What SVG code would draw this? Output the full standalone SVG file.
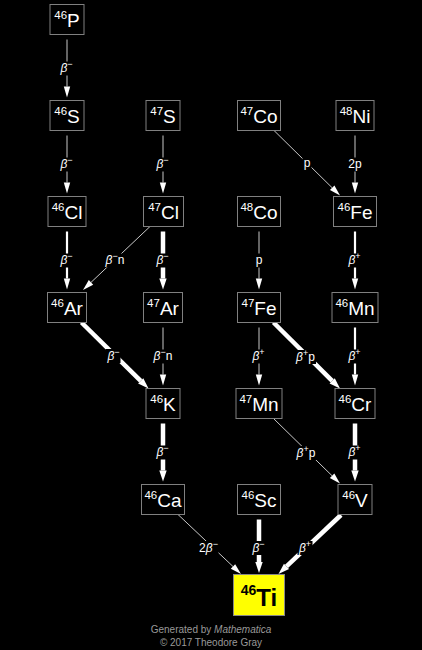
<svg xmlns="http://www.w3.org/2000/svg" width="422" height="650" viewBox="0 0 422 650">
<style>
.bg{fill:#000}
.box{fill:#000;stroke:#808080;stroke-width:1}
.nt{font-family:"Liberation Sans",Arial,sans-serif;fill:#fff;text-anchor:middle}
.ms{font-size:11.5px}
.el{font-size:19px}
.ti{font-family:"Liberation Sans",Arial,sans-serif;fill:#000;font-weight:bold;text-anchor:middle}
.thin{stroke:#c8c8c8;stroke-width:1;fill:none;marker-end:url(#ah)}
.med{stroke:#fff;stroke-width:2.2;fill:none;marker-end:url(#ah)}
.thick{stroke:#fff;stroke-width:4.5;fill:none;marker-end:url(#ahT)}
.lb{fill:#000}
.lt{font-family:"Liberation Sans",Arial,sans-serif;font-size:12px;fill:#fff;text-anchor:middle}
.it{font-style:italic}
.sp{font-size:9px}
.ft{font-family:"Liberation Sans",Arial,sans-serif;font-size:10px;fill:#999;text-anchor:middle}
</style>
<defs>
<marker id="ah" markerUnits="userSpaceOnUse" markerWidth="11" markerHeight="7" refX="0" refY="3.5" orient="auto" overflow="visible"><path d="M0,0.3 L11,3.5 L0,6.7 z" fill="#fff"/></marker>
<marker id="ahT" markerUnits="userSpaceOnUse" markerWidth="11" markerHeight="8" refX="0" refY="4" orient="auto" overflow="visible"><path d="M0,0.3 L11,4 L0,7.7 z" fill="#fff"/></marker>
</defs>
<rect class="bg" x="0" y="0" width="422" height="650"/>

<g id="connectors">
<line class="thin" x1="67" y1="39.5" x2="67" y2="86.5"/>
<line class="thin" x1="67" y1="135.5" x2="67" y2="182.5"/>
<line class="med" x1="67" y1="231.5" x2="67" y2="278.5"/>
<line class="thin" x1="163" y1="135.5" x2="163" y2="182.5"/>
<line class="thick" x1="163" y1="231.5" x2="163" y2="278.5"/>
<line class="thin" x1="163" y1="327.5" x2="163" y2="374.5"/>
<line class="thick" x1="163" y1="423.5" x2="163" y2="470.5"/>
<line class="thin" x1="259" y1="231.5" x2="259" y2="278.5"/>
<line class="thin" x1="259" y1="327.5" x2="259" y2="374.5"/>
<line class="thick" x1="259" y1="519.5" x2="259" y2="562"/>
<line class="thin" x1="355" y1="135.5" x2="355" y2="182.5"/>
<line class="med" x1="355" y1="231.5" x2="355" y2="278.5"/>
<line class="med" x1="355" y1="327.5" x2="355" y2="374.5"/>
<line class="thick" x1="355" y1="423.5" x2="355" y2="470.5"/>
<line class="thin" x1="150" y1="226.5" x2="91" y2="282.4"/>
<line class="thin" x1="273.5" y1="130" x2="332.2" y2="187.8"/>
<line class="thick" x1="81.5" y1="322.5" x2="140.7" y2="380.8"/>
<line class="thick" x1="273.5" y1="322.5" x2="332.2" y2="380.8"/>
<line class="thin" x1="273.5" y1="418.5" x2="332.1" y2="475.8"/>
<line class="thin" x1="178" y1="514.5" x2="233" y2="566.5"/>
<line class="thick" x1="341" y1="515" x2="286.5" y2="566.4"/>

<rect class="lb" x="60" y="61.5" width="13" height="14"/>
<text class="lt" x="66.5" y="72"><tspan class="it">β</tspan><tspan class="sp" dy="-5">−</tspan></text>
<rect class="lb" x="60" y="157.5" width="13" height="14"/>
<text class="lt" x="66.5" y="168"><tspan class="it">β</tspan><tspan class="sp" dy="-5">−</tspan></text>
<rect class="lb" x="60" y="253.5" width="13" height="14"/>
<text class="lt" x="66.5" y="264"><tspan class="it">β</tspan><tspan class="sp" dy="-5">−</tspan></text>
<rect class="lb" x="156" y="157.5" width="13" height="14"/>
<text class="lt" x="162.5" y="168"><tspan class="it">β</tspan><tspan class="sp" dy="-5">−</tspan></text>
<rect class="lb" x="156" y="253.5" width="13" height="14"/>
<text class="lt" x="162.5" y="264"><tspan class="it">β</tspan><tspan class="sp" dy="-5">−</tspan></text>
<rect class="lb" x="153" y="349.5" width="20" height="14"/>
<text class="lt" x="163" y="360"><tspan class="it">β</tspan><tspan class="sp" dy="-5">−</tspan><tspan dy="5">n</tspan></text>
<rect class="lb" x="156" y="445.5" width="13" height="14"/>
<text class="lt" x="162.5" y="456"><tspan class="it">β</tspan><tspan class="sp" dy="-5">−</tspan></text>
<rect class="lb" x="254.5" y="253.5" width="9" height="14"/>
<text class="lt" x="259" y="264">p</text>
<rect class="lb" x="252" y="349.5" width="14" height="14"/>
<text class="lt" x="258.5" y="360"><tspan class="it">β</tspan><tspan class="sp" dy="-5">+</tspan></text>
<rect class="lb" x="252" y="541" width="13" height="14"/>
<text class="lt" x="258.5" y="552"><tspan class="it">β</tspan><tspan class="sp" dy="-5">−</tspan></text>
<rect class="lb" x="347.5" y="157.5" width="15" height="14"/>
<text class="lt" x="355" y="168">2p</text>
<rect class="lb" x="347.5" y="253.5" width="14" height="14"/>
<text class="lt" x="354.5" y="264"><tspan class="it">β</tspan><tspan class="sp" dy="-5">+</tspan></text>
<rect class="lb" x="347.5" y="349.5" width="14" height="14"/>
<text class="lt" x="354.5" y="360"><tspan class="it">β</tspan><tspan class="sp" dy="-5">+</tspan></text>
<rect class="lb" x="347.5" y="445.5" width="14" height="14"/>
<text class="lt" x="354.5" y="456"><tspan class="it">β</tspan><tspan class="sp" dy="-5">+</tspan></text>
<rect class="lb" x="105" y="253.5" width="20" height="14"/>
<text class="lt" x="115" y="264"><tspan class="it">β</tspan><tspan class="sp" dy="-5">−</tspan><tspan dy="5">n</tspan></text>
<rect class="lb" x="302.5" y="156.5" width="9" height="14"/>
<text class="lt" x="307" y="167">p</text>
<rect class="lb" x="105.5" y="349" width="15" height="14"/>
<text class="lt" x="113.5" y="359.5"><tspan class="it">β</tspan><tspan class="sp" dy="-5">−</tspan></text>
<rect class="lb" x="295" y="350" width="21" height="14"/>
<text class="lt" x="305.5" y="360.5"><tspan class="it">β</tspan><tspan class="sp" dy="-5">+</tspan><tspan dy="5">p</tspan></text>
<rect class="lb" x="295.5" y="446" width="21" height="14"/>
<text class="lt" x="306" y="456.5"><tspan class="it">β</tspan><tspan class="sp" dy="-5">+</tspan><tspan dy="5">p</tspan></text>
<rect class="lb" x="198.5" y="541" width="20" height="14"/>
<text class="lt" x="208.5" y="552">2<tspan class="it">β</tspan><tspan class="sp" dy="-5">−</tspan></text>
<rect class="lb" x="297.5" y="541" width="15" height="14"/>
<text class="lt" x="305" y="552"><tspan class="it">β</tspan><tspan class="sp" dy="-5">+</tspan></text>
</g>

<g id="n46P"><rect class="box" x="50" y="4.5" width="34" height="30"/><text class="nt" x="67" y="27"><tspan class="ms" dy="-8.5">46</tspan><tspan class="el" dy="8.5">P</tspan></text></g>
<g id="n46S"><rect class="box" x="50" y="100.5" width="34" height="30"/><text class="nt" x="67" y="123"><tspan class="ms" dy="-8.5">46</tspan><tspan class="el" dy="8.5">S</tspan></text></g>
<g id="n47S"><rect class="box" x="146" y="100.5" width="34" height="30"/><text class="nt" x="163" y="123"><tspan class="ms" dy="-8.5">47</tspan><tspan class="el" dy="8.5">S</tspan></text></g>
<g id="n47Co"><rect class="box" x="237.5" y="100.5" width="43" height="30"/><text class="nt" x="259" y="123"><tspan class="ms" dy="-8.5">47</tspan><tspan class="el" dy="8.5">Co</tspan></text></g>
<g id="n48Ni"><rect class="box" x="336" y="100.5" width="38" height="30"/><text class="nt" x="355" y="123"><tspan class="ms" dy="-8.5">48</tspan><tspan class="el" dy="8.5">Ni</tspan></text></g>
<g id="n46Cl"><rect class="box" x="48" y="196.5" width="38" height="30"/><text class="nt" x="67" y="219"><tspan class="ms" dy="-8.5">46</tspan><tspan class="el" dy="8.5">Cl</tspan></text></g>
<g id="n47Cl"><rect class="box" x="143.5" y="196.5" width="40" height="30"/><text class="nt" x="163.5" y="219"><tspan class="ms" dy="-8.5">47</tspan><tspan class="el" dy="8.5">Cl</tspan></text></g>
<g id="n48Co"><rect class="box" x="237.5" y="196.5" width="43" height="30"/><text class="nt" x="259" y="219"><tspan class="ms" dy="-8.5">48</tspan><tspan class="el" dy="8.5">Co</tspan></text></g>
<g id="n46Fe"><rect class="box" x="333.5" y="196.5" width="43" height="30"/><text class="nt" x="355" y="219"><tspan class="ms" dy="-8.5">46</tspan><tspan class="el" dy="8.5">Fe</tspan></text></g>
<g id="n46Ar"><rect class="box" x="47.5" y="292.5" width="39" height="30"/><text class="nt" x="67" y="315"><tspan class="ms" dy="-8.5">46</tspan><tspan class="el" dy="8.5">Ar</tspan></text></g>
<g id="n47Ar"><rect class="box" x="143.5" y="292.5" width="39" height="30"/><text class="nt" x="163" y="315"><tspan class="ms" dy="-8.5">47</tspan><tspan class="el" dy="8.5">Ar</tspan></text></g>
<g id="n47Fe"><rect class="box" x="237.5" y="292.5" width="43" height="30"/><text class="nt" x="259" y="315"><tspan class="ms" dy="-8.5">47</tspan><tspan class="el" dy="8.5">Fe</tspan></text></g>
<g id="n46Mn"><rect class="box" x="332" y="292.5" width="46" height="30"/><text class="nt" x="355" y="315"><tspan class="ms" dy="-8.5">46</tspan><tspan class="el" dy="8.5">Mn</tspan></text></g>
<g id="n46K"><rect class="box" x="146" y="388.5" width="34" height="30"/><text class="nt" x="163" y="411"><tspan class="ms" dy="-8.5">46</tspan><tspan class="el" dy="8.5">K</tspan></text></g>
<g id="n47Mn"><rect class="box" x="236" y="388.5" width="46" height="30"/><text class="nt" x="259" y="411"><tspan class="ms" dy="-8.5">47</tspan><tspan class="el" dy="8.5">Mn</tspan></text></g>
<g id="n46Cr"><rect class="box" x="335" y="388.5" width="40" height="30"/><text class="nt" x="355" y="411"><tspan class="ms" dy="-8.5">46</tspan><tspan class="el" dy="8.5">Cr</tspan></text></g>
<g id="n46Ca"><rect class="box" x="141.5" y="484.5" width="43" height="30"/><text class="nt" x="163" y="507"><tspan class="ms" dy="-8.5">46</tspan><tspan class="el" dy="8.5">Ca</tspan></text></g>
<g id="n46Sc"><rect class="box" x="237.5" y="484.5" width="43" height="30"/><text class="nt" x="259" y="507"><tspan class="ms" dy="-8.5">46</tspan><tspan class="el" dy="8.5">Sc</tspan></text></g>
<g id="n46V"><rect class="box" x="338" y="484.5" width="34" height="30"/><text class="nt" x="355" y="507"><tspan class="ms" dy="-8.5">46</tspan><tspan class="el" dy="8.5">V</tspan></text></g>
<g id="n46Ti"><rect x="233.5" y="574.5" width="51" height="41" fill="#ffff00" stroke="#888" stroke-width="1"/><text class="ti" x="259" y="605.5"><tspan font-size="14px" dy="-11">46</tspan><tspan font-size="24px" dy="11">Ti</tspan></text></g>

<g id="footer">
<text class="ft" x="211" y="633">Generated by <tspan font-style="italic">Mathematica</tspan></text>
<text class="ft" x="211" y="646">© 2017 Theodore Gray</text>
</g>
</svg>
